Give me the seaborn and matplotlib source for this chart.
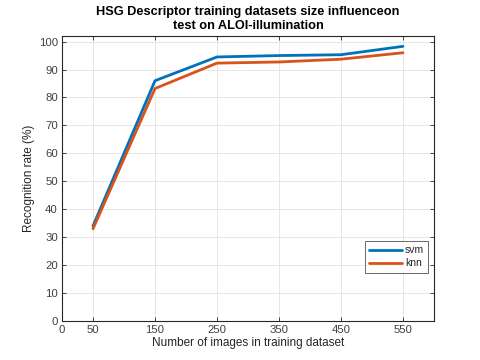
import matplotlib
matplotlib.use("Agg")
import matplotlib.pyplot as plt
import seaborn as sns
import pandas as pd

sizes = [50, 150, 250, 350, 450, 550]
svm = [34.0, 86.0, 94.5, 95.0, 95.3, 98.3]
knn = [33.0, 83.2, 92.3, 92.7, 93.7, 96.0]
x_ticks = [0, 50, 150, 250, 350, 450, 550]
y_ticks = list(range(0, 101, 10))

df = pd.DataFrame({
    "size": sizes * 2,
    "rate": svm + knn,
    "method": ["svm"] * len(sizes) + ["knn"] * len(sizes),
})

sns.set_theme(style="white")
plt.rcParams['font.family'] = ['Liberation Sans', 'DejaVu Sans']

fig = plt.figure(figsize=(4.8, 3.6), dpi=100)
ax = fig.add_axes([62/480, 1 - 321/360, (434-62)/480, (321-36)/360])

sns.lineplot(data=df, x="size", y="rate", hue="method",
             palette={"svm": "#0072BD", "knn": "#D95319"},
             linewidth=2, ax=ax, legend=True)

ax.set_xlim(0, 600)
ax.set_ylim(0, 102)
ax.set_xticks(x_ticks)
ax.set_yticks(y_ticks)
ax.grid(True, color="#e6e6e6", linewidth=0.7)
ax.set_axisbelow(True)
for s in ax.spines.values():
    s.set_color("#262626")
    s.set_linewidth(0.8)
ax.tick_params(direction="in", length=3, width=0.6, colors="#262626",
               labelsize=8.2, top=True, right=True, bottom=True, left=True,
               labelcolor="#404040", pad=3)

ax.set_xlabel("Number of images in training dataset", fontsize=8.5, color="#262626", labelpad=1)
ax.set_ylabel("Recognition rate (%)", fontsize=8.5, color="#262626", labelpad=3)
ax.set_title("HSG Descriptor training datasets size influenceon\ntest on ALOI-illumination",
             fontsize=9.2, fontweight="bold", color="#000000", pad=5, linespacing=1.25)

leg = ax.legend(loc="lower right", bbox_to_anchor=(0.985, 0.17), fontsize=7.5,
                frameon=True, fancybox=False, edgecolor="#262626", handlelength=3.2,
                handletextpad=0.3, borderpad=0.4, labelspacing=0.3, borderaxespad=0)
leg.get_frame().set_linewidth(0.6)

fig.savefig("out.png", dpi=100)
